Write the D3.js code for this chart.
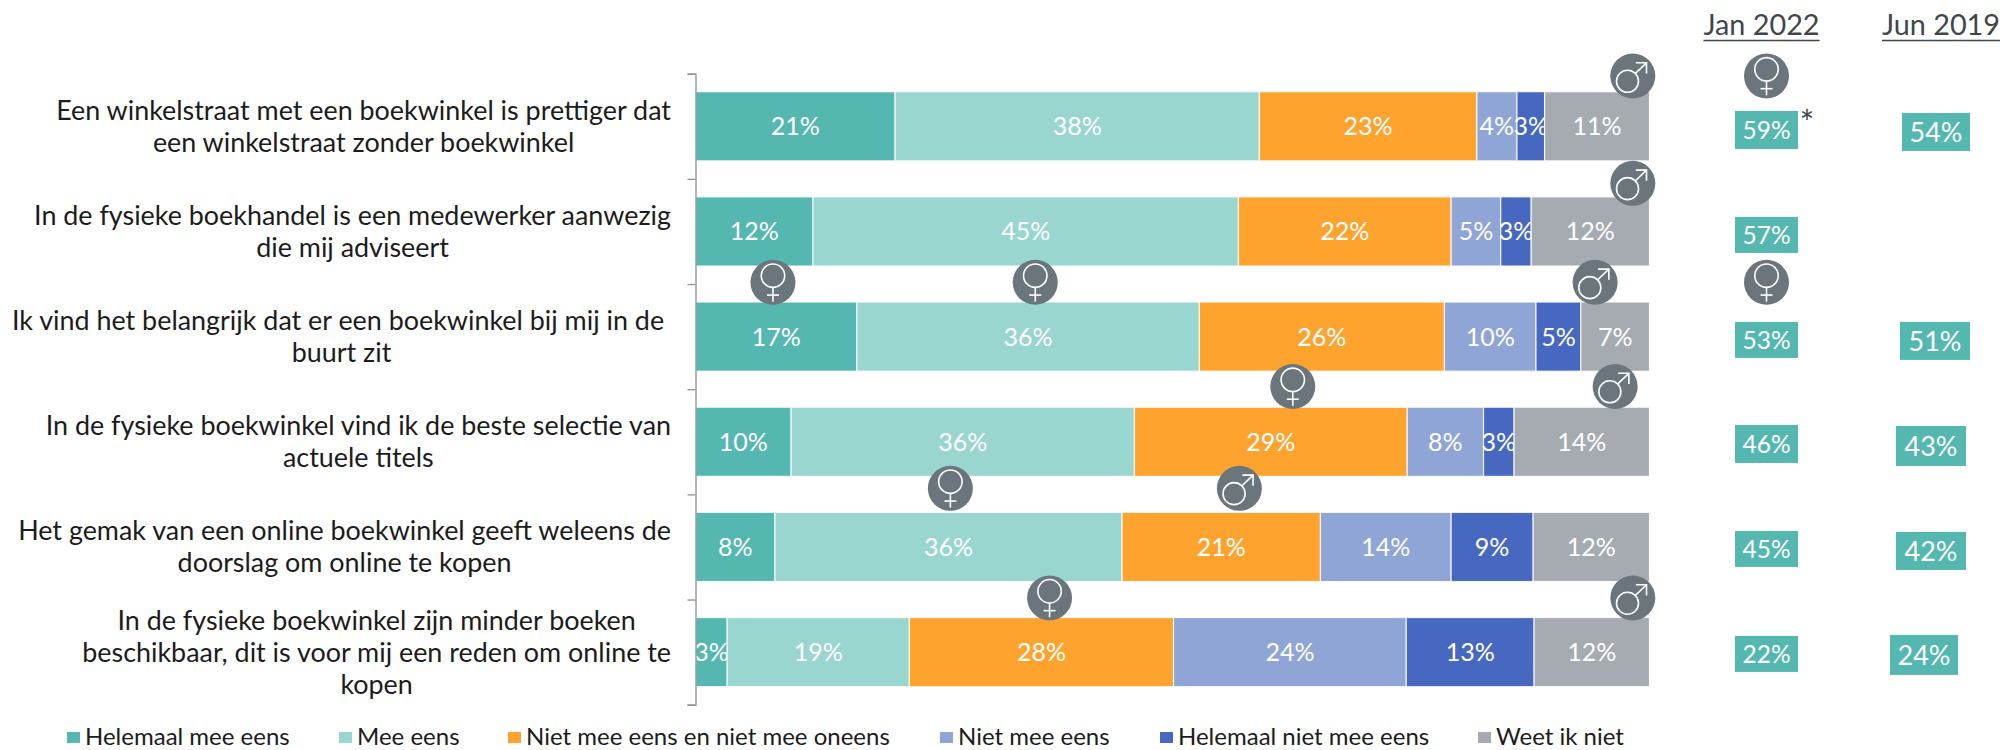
<!DOCTYPE html>
<html><head><meta charset="utf-8">
<script src="https://cdn.jsdelivr.net/npm/d3@7"></script>
<style>html,body{margin:0;padding:0;background:#fff;overflow:hidden}svg{display:block}text{font-family:Lato,sans-serif}</style>
</head><body><div id="chart"></div>
<script>
const categories = [
  ["Een winkelstraat met een boekwinkel is prettiger dat","een winkelstraat zonder boekwinkel"],
  ["In de fysieke boekhandel is een medewerker aanwezig","die mij adviseert"],
  ["Ik vind het belangrijk dat er een boekwinkel bij mij in de ","buurt zit"],
  ["In de fysieke boekwinkel vind ik de beste selectie van","actuele titels"],
  ["Het gemak van een online boekwinkel geeft weleens de","doorslag om online te kopen"],
  ["In de fysieke boekwinkel zijn minder boeken","beschikbaar, dit is voor mij een reden om online te","kopen"]
];
const seriesNames = ["Helemaal mee eens","Mee eens","Niet mee eens en niet mee oneens","Niet mee eens","Helemaal niet mee eens","Weet ik niet"];
const helemaalEens = [20.9,12.3,16.9,10.0,8.3,3.3];
const meeEens      = [38.2,44.6,35.9,36.0,36.4,19.1];
const neutraal     = [22.8,22.3,25.7,28.6,20.8,27.7];
const nietEens     = [4.2,5.2,9.6,8.0,13.7,24.4];
const helemaalNiet = [2.9,3.2,4.7,3.2,8.6,13.4];
const weetNiet     = [11.0,12.4,7.2,14.2,12.2,12.1];
const jan2022 = [59,57,53,46,45,22];
const jun2019 = [54,null,51,43,42,24];
const colors = ["#55b8b0","#9ad6d0","#ffa32f","#8fa5d6","#4668c0","#a5abb1"];
// gender markers: row boundary, position on the percentage scale, type
const markerRows = [0,1,2,2,2,3,3,4,4,5,5];
const markerPct  = [98.25,98.25,8.1,35.6,94.3,62.6,96.4,26.7,57,37.1,98.25];
const markerType = ["m","m","f","f","m","f","m","f","m","f","m"];
const janMarkerRows = [0,2];

const W=2004,H=750;
const svg=d3.select("#chart").append("svg").attr("width",W).attr("height",H);
const x=d3.scaleLinear().domain([0,100]).range([695.7,1649.5]);
const y=d3.scaleBand().domain(d3.range(categories.length)).range([73.7,704.7]).paddingInner(36/105.17).paddingOuter(18/105.17);
const yEdge=d3.scaleLinear().domain([0,6]).range([73.7,704.7]);
const color=d3.scaleOrdinal().domain(seriesNames).range(colors);
const pct=d3.format(".0f");
const rows=categories.map((c,i)=>[helemaalEens[i],meeEens[i],neutraal[i],nietEens[i],helemaalNiet[i],weetNiet[i]]);
const table=rows.map(r=>Object.fromEntries(seriesNames.map((s,j)=>[s,r[j]])));
const stacked=d3.stack().keys(seriesNames)(table);

// bars
const seriesG=svg.append("g").selectAll("g").data(stacked).join("g").attr("fill",d=>color(d.key));
seriesG.selectAll("rect").data(d=>d.map((v,i)=>({v,i}))).join("rect")
  .attr("x",d=>x(d.v[0])).attr("width",d=>x(d.v[1])-x(d.v[0]))
  .attr("y",d=>y(d.i)).attr("height",y.bandwidth())
  .attr("stroke","#fff").attr("stroke-width",1.2).attr("stroke-opacity",.85);
seriesG.selectAll("text").data(d=>d.map((v,i)=>({v,i}))).join("text")
  .attr("x",d=>(x(d.v[0])+x(d.v[1]))/2).attr("y",d=>y(d.i)+y.bandwidth()/2)
  .attr("dy","0.36em").attr("text-anchor","middle").attr("fill","#fff").attr("font-size",25)
  .text(d=>pct(d.v[1]-d.v[0])+"%");

// axis
const axis=svg.append("g").attr("transform","translate(695.5,0)")
  .call(d3.axisLeft(yEdge).tickValues(d3.range(7)).tickSize(8).tickFormat(""));
axis.selectAll("path,line").attr("stroke","#8a9198").attr("stroke-width",1.3);

// category labels
const labelRight=671;
const cat=svg.append("g").selectAll("text").data(categories).join("text")
  .attr("fill","#1c1c1c").attr("font-size",26.9).attr("text-anchor","middle").style("white-space","pre");
cat.each(function(lines,i){
  const t=d3.select(this), cy=y(i)+y.bandwidth()/2-1, lh=32;
  lines.forEach((l,k)=>t.append("tspan")
    .attr("y",cy+(k-(lines.length-1)/2)*lh).attr("dominant-baseline","central").text(l));
  let w=0; t.selectAll("tspan").each(function(){w=Math.max(w,this.getComputedTextLength())});
  t.selectAll("tspan").attr("x",labelRight-w/2);
});

// legend
const legendX=[67,339,508,940,1160,1478];
const lg=svg.append("g").selectAll("g").data(seriesNames).join("g").attr("transform",(d,i)=>`translate(${legendX[i]},732)`);
lg.append("rect").attr("width",13).attr("height",11).attr("fill",d=>color(d));
lg.append("text").attr("x",18).attr("y",13).attr("font-size",24).attr("fill","#1c1c1c").text(d=>d);

// comparison columns
const col=d3.scalePoint().domain(["Jan 2022","Jun 2019"]).range([1761.5,1941]);
const ink="#3f474d";
const hdr=svg.append("g").selectAll("g").data(col.domain()).join("g");
hdr.append("text").attr("x",d=>col(d)).attr("y",35).attr("text-anchor","middle").attr("font-size",28.8).attr("fill",ink).text(d=>d);
hdr.each(function(){
  const g=d3.select(this),n=g.select("text").node(),w=n.getComputedTextLength(),c=+g.select("text").attr("x");
  g.append("line").attr("x1",c-w/2).attr("x2",c+w/2).attr("y1",40.5).attr("y2",40.5).attr("stroke",ink).attr("stroke-width",1.5);
});
const janDx=[5,5,5,5,5,5], janDy=[3.7,3.5,3.3,2.2,2,1.8], janH=[38,36,36,38,36,36];
const junDx=[-5,0,-6,-10,-10,-17], junDy=[5.7,0,4.3,4.2,4,2.8], junW=[68,0,70,70,70,68], junH=[38,0,38,40,38,40];
const cols=svg.append("g");
jan2022.forEach((v,i)=>{
  const cx=col("Jan 2022")+janDx[i], cy=y(i)+y.bandwidth()/2+janDy[i];
  cols.append("rect").attr("x",cx-31.5).attr("width",63).attr("y",cy-janH[i]/2).attr("height",janH[i]).attr("fill",colors[0]);
  cols.append("text").attr("x",cx).attr("y",cy).attr("dy","0.36em").attr("text-anchor","middle").attr("fill","#fff").attr("font-size",24.5).text(v+"%");
});
jun2019.forEach((v,i)=>{
  if(v==null)return;
  const cx=col("Jun 2019")+junDx[i], cy=y(i)+y.bandwidth()/2+junDy[i];
  cols.append("rect").attr("x",cx-junW[i]/2).attr("width",junW[i]).attr("y",cy-junH[i]/2).attr("height",junH[i]).attr("fill",colors[0]);
  cols.append("text").attr("x",cx).attr("y",cy).attr("dy","0.38em").attr("text-anchor","middle").attr("fill","#fff").attr("font-size",27).text(v+"%");
});
cols.append("text").attr("x",col("Jan 2022")+45.5).attr("y",y(0)+y.bandwidth()/2+9).attr("text-anchor","middle").attr("font-size",34).attr("fill",ink).text("*");

// gender markers
function marker(cx,cy,type){
  const g=svg.append("g").attr("transform",`translate(${cx},${cy})`);
  g.append("circle").attr("r",22.5).attr("fill","#6a767c");
  const s={fill:"none",stroke:"#fff","stroke-width":1.6};
  const add=(n,a)=>{const e=g.append(n);Object.entries({...s,...a}).forEach(([k,v])=>e.attr(k,v));};
  if(type==="f"){
    add("circle",{cx:0,cy:-6.7,r:11.7});
    add("path",{d:d3.line()([[0,5],[0,19.3]])});
    add("path",{d:d3.line()([[-6,12.7],[6,12.7]])});
  }else{
    add("circle",{cx:-5.3,cy:5.3,r:11});
    add("path",{d:d3.line()([[2.6,-2.6],[13.7,-13.2]])});
    add("path",{d:d3.line()([[3,-13.2],[13.7,-13.2],[13.7,-2.5]])});
  }
}
const markerDy=[2.3,4.5,-1.7,-2.7,-6,-1.6];
markerRows.forEach((r,i)=>marker(x(markerPct[i]),yEdge(r)+markerDy[r],markerType[i]));
janMarkerRows.forEach(r=>marker(col("Jan 2022")+5,yEdge(r)+markerDy[r],"f"));
</script></body></html>
